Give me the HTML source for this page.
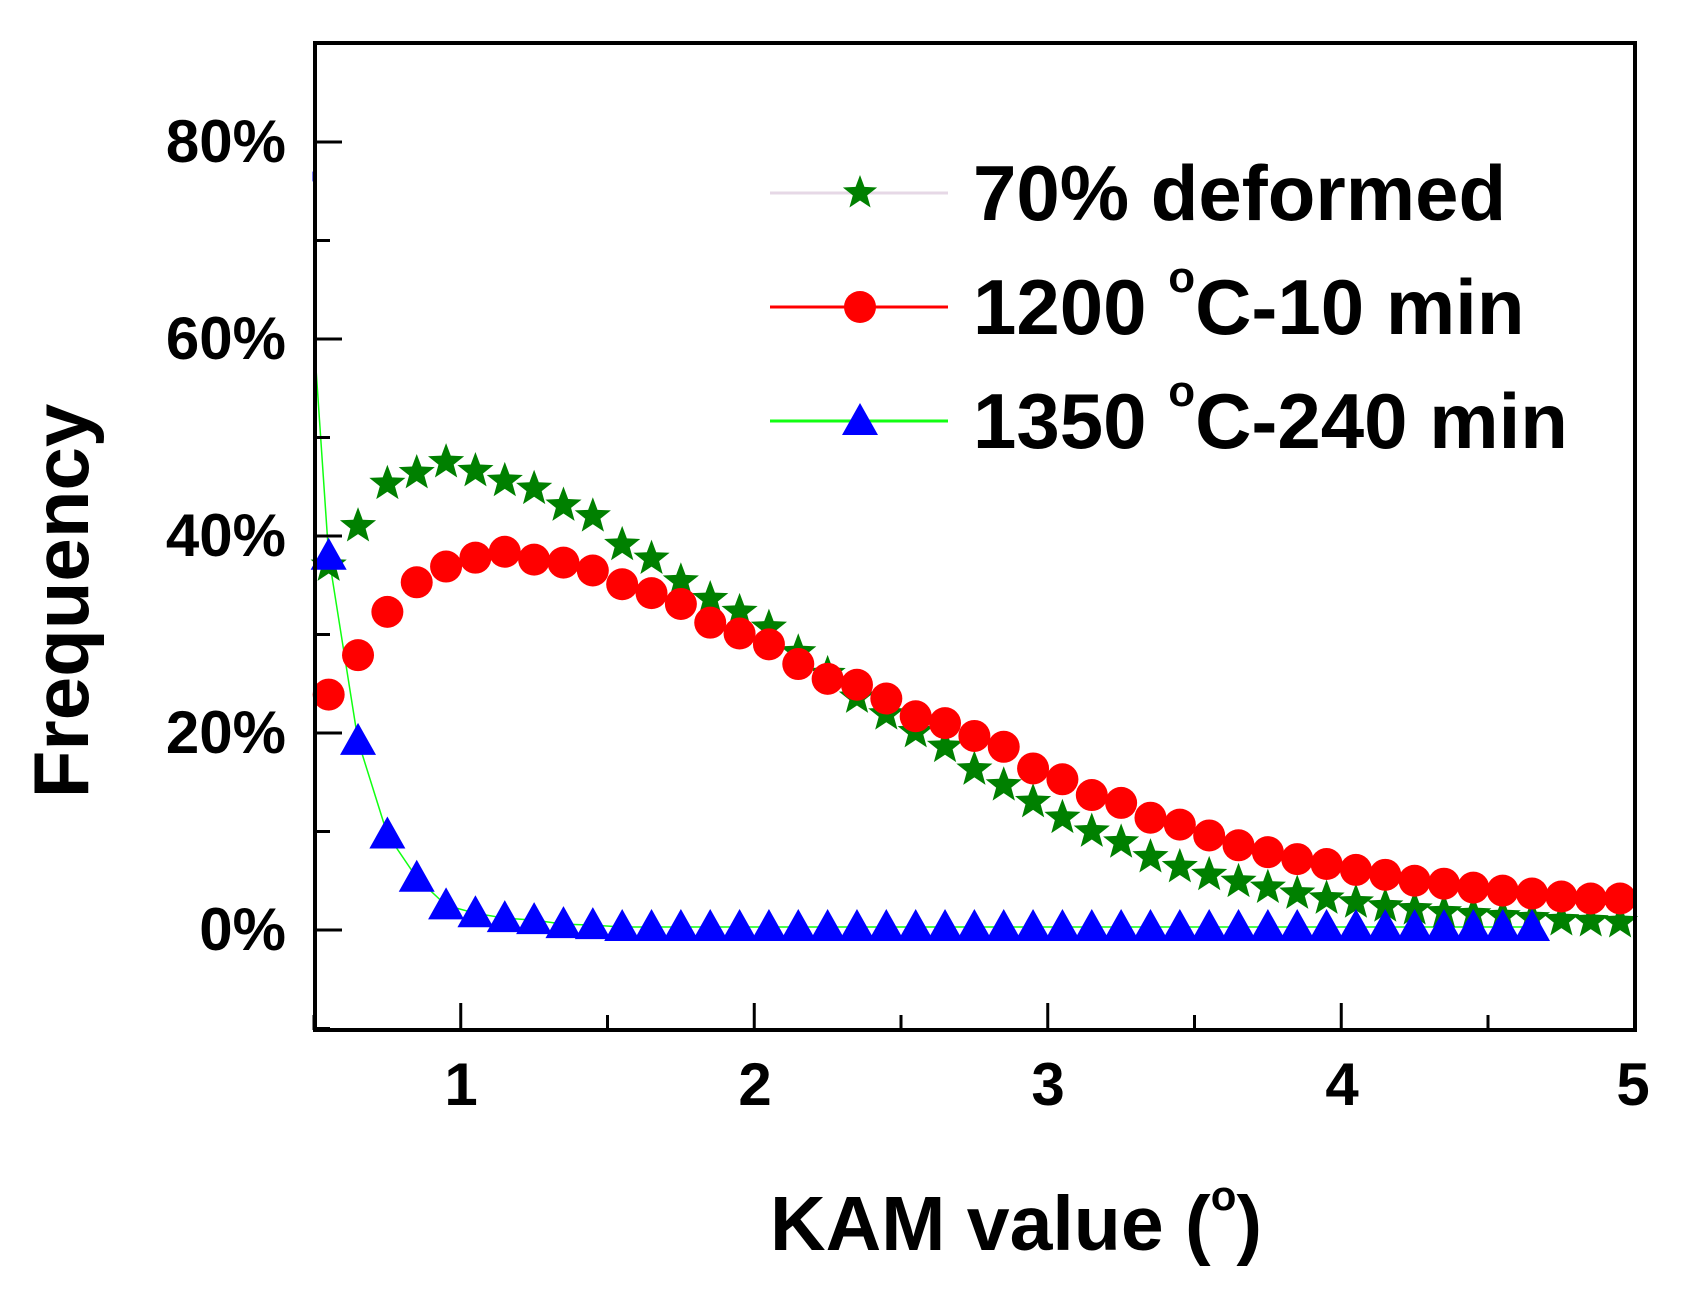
<!DOCTYPE html>
<html><head><meta charset="utf-8"><style>
html,body{margin:0;padding:0;background:#fff}
svg{display:block}
text{font-family:"Liberation Sans",Arial,sans-serif;font-weight:bold;fill:#000}
</style></head><body>
<svg id="s" width="1684" height="1292" xmlns="http://www.w3.org/2000/svg">
<rect width="1684" height="1292" fill="#fff"/>
<g id="data"></g>
<rect x="315" y="43" width="1320" height="987" fill="none" stroke="#000" stroke-width="4"/>
<g id="ticks" stroke="#000" stroke-width="3"></g>
<g font-size="60" text-anchor="end">
<text x="286" y="162">80%</text>
<text x="286" y="359">60%</text>
<text x="286" y="556">40%</text>
<text x="286" y="753">20%</text>
<text x="286" y="950">0%</text>
</g>
<g font-size="60" text-anchor="middle">
<text x="461" y="1105">1</text>
<text x="755" y="1105">2</text>
<text x="1048" y="1105">3</text>
<text x="1342" y="1105">4</text>
<text x="1633" y="1105">5</text>
</g>
<text x="770" y="1250" font-size="77">KAM value (<tspan font-size="42" dy="-40">o</tspan><tspan dy="40">)</tspan></text>
<text transform="translate(88,601) rotate(-90)" font-size="78" text-anchor="middle">Frequency</text>
<line x1="770" y1="193" x2="948" y2="193" stroke="#e6d8e6" stroke-width="3"/>
<line x1="770" y1="307" x2="948" y2="307" stroke="#f00" stroke-width="3"/>
<line x1="770" y1="421" x2="948" y2="421" stroke="#1f1" stroke-width="3"/>
<g id="leg"></g>
<g font-size="78">
<text x="973" y="220">70% deformed</text>
<text x="973" y="334">1200 <tspan font-size="44" dy="-42">o</tspan><tspan dy="42">C-10 min</tspan></text>
<text x="973" y="448">1350 <tspan font-size="44" dy="-42">o</tspan><tspan dy="42">C-240 min</tspan></text>
</g>
</svg>
<script>
const NS="http://www.w3.org/2000/svg";
const X=v=>314+(v-0.5)*293.5, Y=p=>930-p*9.85;
function el(t,a,p){const e=document.createElementNS(NS,t);for(const k in a)e.setAttribute(k,a[k]);p.appendChild(e);return e;}
const tk=document.getElementById('ticks');
for(let v=0.5;v<=5.001;v+=0.5){const maj=Math.abs(v-Math.round(v))<1e-6;el('line',{x1:X(v),y1:1030,x2:X(v),y2:maj?1003:1015},tk);}
for(let p=-10;p<=90;p+=10){const maj=p%20==0;el('line',{x1:315,y1:Y(p),x2:maj?342:330,y2:Y(p)},tk);}
const G=[37,41,45.3,46.4,47.5,46.6,45.6,44.8,43.1,42,39.1,37.7,35.4,33.6,32.3,30.7,28.2,26,23.6,21.9,20.1,18.6,16.3,14.7,13,11.4,10,8.9,7.4,6.4,5.6,4.9,4.3,3.7,3.2,2.8,2.4,2.1,1.8,1.6,1.4,1.2,1.0,0.9,0.8];
const R=[23.9,27.9,32.3,35.3,36.9,37.8,38.4,37.6,37.3,36.5,35.1,34.2,33.1,31.2,30.1,29,27,25.5,24.9,23.5,21.7,21,19.7,18.6,16.4,15.3,13.7,12.9,11.4,10.7,9.6,8.6,7.9,7.2,6.7,6.1,5.6,5,4.7,4.3,4,3.7,3.4,3.2,3.2];
const B=[38,19.2,9.7,5.3,2.5,1.7,1.2,1,0.6,0.5];while(B.length<42)B.push(0.3);
const d=document.getElementById('data');
function line(arr,start,col){let s=`M${X(0.5)} ${Y(start)}`;arr.forEach((v,i)=>s+=` L${X(0.55+0.1*i)} ${Y(v)}`);el('path',{d:s,fill:'none',stroke:col,'stroke-width':1.5},d);}
line(B,60,'#1f1');
el('line',{x1:X(0.5),y1:Y(77),x2:X(0.5),y2:Y(76),stroke:'#00f','stroke-width':3},d);
function star(cx,cy,r,p){let s='';for(let i=0;i<10;i++){const a=-Math.PI/2+i*Math.PI/5,rr=i%2?r*0.42:r;s+=(i?'L':'M')+(cx+rr*Math.cos(a))+' '+(cy+rr*Math.sin(a));}el('path',{d:s+'Z',fill:'#008000'},p);}
function tri(cx,cy,p){el('path',{d:`M${cx} ${cy-18}L${cx+18} ${cy+14}L${cx-18} ${cy+14}Z`,fill:'#00f'},p);}
G.forEach((v,i)=>star(X(0.55+0.1*i),Y(v),19,d));
R.forEach((v,i)=>el('circle',{cx:X(0.55+0.1*i),cy:Y(v),r:16,fill:'#f00'},d));
B.forEach((v,i)=>tri(X(0.55+0.1*i),Y(v),d));
const lg=document.getElementById('leg');
star(860,193,18,lg);el('circle',{cx:860,cy:307,r:16,fill:'#f00'},lg);tri(860,421,lg);
</script>
</body></html>
